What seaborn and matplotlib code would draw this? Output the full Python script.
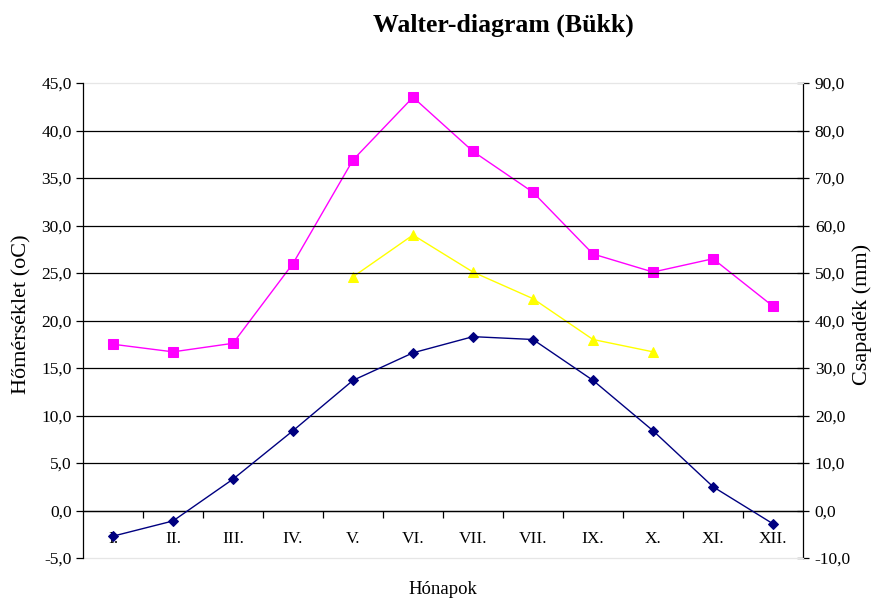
import numpy as np
import pandas as pd
import seaborn as sns
import matplotlib.pyplot as plt
from matplotlib.ticker import FuncFormatter, FixedLocator

# Adatok
honapok = ['I.', 'II.', 'III.', 'IV.', 'V.', 'VI.', 'VII.', 'VII.', 'IX.', 'X.', 'XI.', 'XII.']
homerseklet = [-2.7, -1.1, 3.3, 8.4, 13.7, 16.6, 18.3, 18.0, 13.7, 8.4, 2.5, -1.4]
csapadek = [35.0, 33.4, 35.2, 52.0, 73.8, 87.0, 75.6, 67.0, 54.0, 50.2, 53.0, 43.0]
csapadek2_honap = [4, 5, 6, 7, 8, 9]
csapadek2 = [49.2, 58.0, 50.2, 44.6, 36.0, 33.4]

homerseklet_ticks = [-5, 0, 5, 10, 15, 20, 25, 30, 35, 40, 45]
csapadek_ticks = [-10, 0, 10, 20, 30, 40, 50, 60, 70, 80, 90]

idx = list(range(len(honapok)))
df_t = pd.DataFrame({'honap': idx, 'ertek': homerseklet})
df_p = pd.DataFrame({'honap': idx, 'ertek': csapadek})
df_p2 = pd.DataFrame({'honap': csapadek2_honap, 'ertek': csapadek2})

sns.set_style('white')
plt.rcParams['font.family'] = ['Liberation Serif', 'DejaVu Serif']
plt.rcParams.update({'text.color': 'black', 'xtick.color': 'black', 'ytick.color': 'black'})

fig = plt.figure(figsize=(8.81, 6.01), dpi=100)
ax = fig.add_axes([83 / 881, 1 - 558 / 601, 720 / 881, 475 / 601])
ax2 = ax.twinx()

# rácsvonalak
ax.hlines(homerseklet_ticks[1:-1], -0.5, len(honapok) - 0.5, color='black', lw=0.9, zorder=1)

sns.lineplot(data=df_t, x='honap', y='ertek', ax=ax, color='#000080', marker='D',
             markersize=5, markeredgecolor='#000080', lw=1.0, zorder=5)
sns.lineplot(data=df_p, x='honap', y='ertek', ax=ax2, color='#FF00FF', marker='s',
             markersize=7, markeredgecolor='#FF00FF', lw=1.0, zorder=5)
sns.lineplot(data=df_p2, x='honap', y='ertek', ax=ax2, color='#FFFF00', marker='^',
             markersize=7, markeredgecolor='#FFFF00', lw=1.0, zorder=5)

ax.set_xlim(-0.5, len(honapok) - 0.5)
ax.set_ylim(homerseklet_ticks[0], homerseklet_ticks[-1])
ax2.set_ylim(csapadek_ticks[0], csapadek_ticks[-1])

fmt = FuncFormatter(lambda v, p: f'{v:.1f}'.replace('.', ','))
ax.yaxis.set_major_locator(FixedLocator(homerseklet_ticks))
ax.yaxis.set_major_formatter(fmt)
ax2.yaxis.set_major_locator(FixedLocator(csapadek_ticks))
ax2.yaxis.set_major_formatter(fmt)

# x tengely a 0-nál
ax.spines['bottom'].set_position(('data', 0))
ax.spines['bottom'].set_color('black')
ax.set_xticks(idx)
ax.set_xticklabels(honapok)
ax.set_xticks(np.arange(0.5, len(honapok) - 1, 1), minor=True)
ax.tick_params(axis='x', which='major', length=0, pad=15, labelsize=12.5)
ax.tick_params(axis='x', which='minor', length=5, width=0.9, direction='out',
               color='black', bottom=True)

ax.tick_params(axis='y', which='major', left=True, length=5, width=0.9,
               direction='out', color='black', labelsize=12.5, pad=3)
ax2.tick_params(axis='y', which='major', right=True, length=9, width=0.9,
                direction='inout', color='black', labelsize=12.5, pad=4)

ax.spines['left'].set_color('black')
ax.spines['right'].set_visible(False)
ax.spines['top'].set_visible(False)
ax2.spines['left'].set_visible(False)
ax2.spines['right'].set_color('black')
ax2.spines['top'].set_color('#e6e6e6')
ax2.spines['bottom'].set_color('#e6e6e6')
for a in (ax, ax2):
    for s in a.spines.values():
        s.set_linewidth(0.9)
    a.set_xlabel('')
    a.set_ylabel('')
ax.set_zorder(ax2.get_zorder() + 1)
ax.patch.set_visible(False)

fig.text(503 / 881, 1 - 25 / 601, 'Walter-diagram (Bükk)', ha='center', va='center',
         fontsize=18.5, fontweight='bold')
fig.text(443 / 881, 1 - 589 / 601, 'Hónapok', ha='center', va='center', fontsize=13.5)
fig.text(22 / 881, 1 - 314 / 601, 'Hőmérséklet (oC)', ha='center', va='center',
         rotation=90, fontsize=16)
fig.text(862 / 881, 1 - 314 / 601, 'Csapadék (mm)', ha='center', va='center',
         rotation=90, fontsize=16)

fig.savefig('out.png', dpi=100)
